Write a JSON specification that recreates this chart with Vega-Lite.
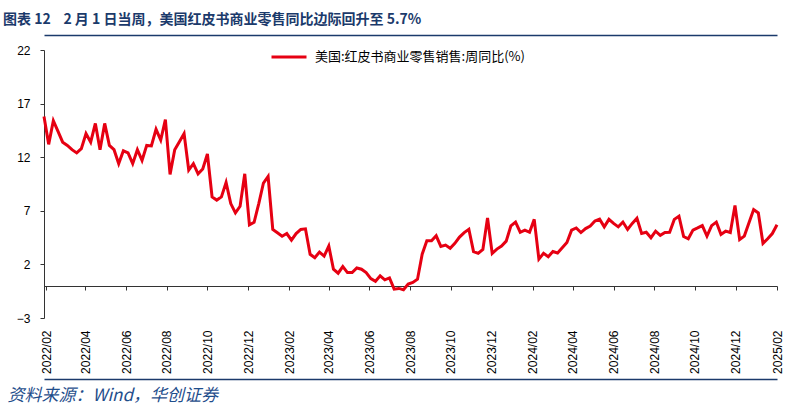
{
  "$schema": "https://vega.github.io/schema/vega-lite/v6.json",
  "width": 733,
  "height": 268,
  "autosize": {"type": "none"},
  "padding": {"left": 44, "top": 50, "right": 17, "bottom": 92},
  "background": "white",
  "title": {
    "text": "图表 12\u00a0\u00a0\u00a0 2 月 1 日当周，美国红皮书商业零售同比边际回升至 5.7%",
    "anchor": "start",
    "frame": "group",
    "dx": -41,
    "offset": 8,
    "font": "Noto Sans CJK SC",
    "fontSize": 14,
    "fontWeight": "bold",
    "color": "#1B3A6B"
  },
  "data": {
    "values": [
      {"date": "2022-01-29", "value": 15.8},
      {"date": "2022-02-05", "value": 13.2},
      {"date": "2022-02-12", "value": 15.4},
      {"date": "2022-02-19", "value": 14.4},
      {"date": "2022-02-26", "value": 13.4},
      {"date": "2022-03-05", "value": 13.1},
      {"date": "2022-03-12", "value": 12.7},
      {"date": "2022-03-19", "value": 12.4},
      {"date": "2022-03-26", "value": 12.8},
      {"date": "2022-04-02", "value": 14.2},
      {"date": "2022-04-09", "value": 13.4},
      {"date": "2022-04-16", "value": 15.15},
      {"date": "2022-04-23", "value": 12.7},
      {"date": "2022-04-30", "value": 15.15},
      {"date": "2022-05-07", "value": 13.1},
      {"date": "2022-05-14", "value": 12.7},
      {"date": "2022-05-21", "value": 11.4},
      {"date": "2022-05-28", "value": 12.6},
      {"date": "2022-06-04", "value": 12.4},
      {"date": "2022-06-11", "value": 11.4},
      {"date": "2022-06-18", "value": 12.7},
      {"date": "2022-06-25", "value": 11.7},
      {"date": "2022-07-02", "value": 13.1},
      {"date": "2022-07-09", "value": 13.05},
      {"date": "2022-07-16", "value": 14.6},
      {"date": "2022-07-23", "value": 13.6},
      {"date": "2022-07-30", "value": 15.5},
      {"date": "2022-08-06", "value": 10.4},
      {"date": "2022-08-13", "value": 12.7},
      {"date": "2022-08-20", "value": 13.45},
      {"date": "2022-08-27", "value": 14.2},
      {"date": "2022-09-03", "value": 10.8},
      {"date": "2022-09-10", "value": 11.4},
      {"date": "2022-09-17", "value": 10.45},
      {"date": "2022-09-24", "value": 10.9},
      {"date": "2022-10-01", "value": 12.3},
      {"date": "2022-10-08", "value": 8.3},
      {"date": "2022-10-15", "value": 8.0},
      {"date": "2022-10-22", "value": 8.3},
      {"date": "2022-10-29", "value": 9.64},
      {"date": "2022-11-05", "value": 7.67},
      {"date": "2022-11-12", "value": 6.8},
      {"date": "2022-11-19", "value": 7.42},
      {"date": "2022-11-26", "value": 10.45},
      {"date": "2022-12-03", "value": 5.69},
      {"date": "2022-12-10", "value": 5.93},
      {"date": "2022-12-17", "value": 7.67},
      {"date": "2022-12-24", "value": 9.59},
      {"date": "2022-12-31", "value": 10.2},
      {"date": "2023-01-07", "value": 5.26},
      {"date": "2023-01-14", "value": 4.95},
      {"date": "2023-01-21", "value": 4.63},
      {"date": "2023-01-28", "value": 4.88},
      {"date": "2023-02-04", "value": 4.26},
      {"date": "2023-02-11", "value": 4.88},
      {"date": "2023-02-18", "value": 5.26},
      {"date": "2023-02-25", "value": 5.32},
      {"date": "2023-03-04", "value": 2.94},
      {"date": "2023-03-11", "value": 2.63},
      {"date": "2023-03-18", "value": 3.15},
      {"date": "2023-03-25", "value": 2.78},
      {"date": "2023-04-01", "value": 3.71},
      {"date": "2023-04-08", "value": 1.55},
      {"date": "2023-04-15", "value": 1.18},
      {"date": "2023-04-22", "value": 1.8},
      {"date": "2023-04-29", "value": 1.24},
      {"date": "2023-05-06", "value": 1.24},
      {"date": "2023-05-13", "value": 1.67},
      {"date": "2023-05-20", "value": 1.55},
      {"date": "2023-05-27", "value": 1.24},
      {"date": "2023-06-03", "value": 0.68},
      {"date": "2023-06-10", "value": 0.43},
      {"date": "2023-06-17", "value": 0.93},
      {"date": "2023-06-24", "value": 0.56},
      {"date": "2023-07-01", "value": 0.74},
      {"date": "2023-07-08", "value": -0.31},
      {"date": "2023-07-15", "value": -0.24},
      {"date": "2023-07-22", "value": -0.37},
      {"date": "2023-07-29", "value": 0.16},
      {"date": "2023-08-05", "value": 0.31},
      {"date": "2023-08-12", "value": 0.62},
      {"date": "2023-08-19", "value": 2.95},
      {"date": "2023-08-26", "value": 4.2},
      {"date": "2023-09-02", "value": 4.2},
      {"date": "2023-09-09", "value": 4.67},
      {"date": "2023-09-16", "value": 3.68},
      {"date": "2023-09-23", "value": 3.8},
      {"date": "2023-09-30", "value": 3.5},
      {"date": "2023-10-07", "value": 3.96},
      {"date": "2023-10-14", "value": 4.55},
      {"date": "2023-10-21", "value": 4.97},
      {"date": "2023-10-28", "value": 5.28},
      {"date": "2023-11-04", "value": 3.2},
      {"date": "2023-11-11", "value": 3.03},
      {"date": "2023-11-18", "value": 3.4},
      {"date": "2023-11-25", "value": 6.34},
      {"date": "2023-12-02", "value": 3.03},
      {"date": "2023-12-09", "value": 3.43},
      {"date": "2023-12-16", "value": 3.71},
      {"date": "2023-12-23", "value": 4.17},
      {"date": "2023-12-30", "value": 5.6},
      {"date": "2024-01-06", "value": 5.95},
      {"date": "2024-01-13", "value": 5.0},
      {"date": "2024-01-20", "value": 5.2},
      {"date": "2024-01-27", "value": 5.0},
      {"date": "2024-02-03", "value": 6.2},
      {"date": "2024-02-10", "value": 2.49},
      {"date": "2024-02-17", "value": 3.03},
      {"date": "2024-02-24", "value": 2.72},
      {"date": "2024-03-02", "value": 3.2},
      {"date": "2024-03-09", "value": 3.06},
      {"date": "2024-03-16", "value": 3.55},
      {"date": "2024-03-23", "value": 4.05},
      {"date": "2024-03-30", "value": 5.2},
      {"date": "2024-04-06", "value": 5.4},
      {"date": "2024-04-13", "value": 4.97},
      {"date": "2024-04-20", "value": 5.34},
      {"date": "2024-04-27", "value": 5.57},
      {"date": "2024-05-04", "value": 6.05},
      {"date": "2024-05-11", "value": 6.22},
      {"date": "2024-05-18", "value": 5.5},
      {"date": "2024-05-25", "value": 6.2},
      {"date": "2024-06-01", "value": 5.82},
      {"date": "2024-06-08", "value": 5.5},
      {"date": "2024-06-15", "value": 5.95},
      {"date": "2024-06-22", "value": 5.26},
      {"date": "2024-06-29", "value": 5.82},
      {"date": "2024-07-06", "value": 6.31},
      {"date": "2024-07-13", "value": 4.88},
      {"date": "2024-07-20", "value": 5.0},
      {"date": "2024-07-27", "value": 4.49},
      {"date": "2024-08-03", "value": 5.1},
      {"date": "2024-08-10", "value": 4.71},
      {"date": "2024-08-17", "value": 4.97},
      {"date": "2024-08-24", "value": 5.0},
      {"date": "2024-08-31", "value": 6.2},
      {"date": "2024-09-07", "value": 6.49},
      {"date": "2024-09-14", "value": 4.6},
      {"date": "2024-09-21", "value": 4.39},
      {"date": "2024-09-28", "value": 5.2},
      {"date": "2024-10-05", "value": 5.4},
      {"date": "2024-10-12", "value": 5.62},
      {"date": "2024-10-19", "value": 4.64},
      {"date": "2024-10-26", "value": 5.62},
      {"date": "2024-11-02", "value": 5.95},
      {"date": "2024-11-09", "value": 4.8},
      {"date": "2024-11-16", "value": 5.1},
      {"date": "2024-11-23", "value": 4.97},
      {"date": "2024-11-30", "value": 7.5},
      {"date": "2024-12-07", "value": 4.32},
      {"date": "2024-12-14", "value": 4.64},
      {"date": "2024-12-21", "value": 5.88},
      {"date": "2024-12-28", "value": 7.11},
      {"date": "2025-01-04", "value": 6.8},
      {"date": "2025-01-11", "value": 3.96},
      {"date": "2025-01-18", "value": 4.39},
      {"date": "2025-01-25", "value": 4.88},
      {"date": "2025-02-01", "value": 5.7}
    ]
  },
  "layer": [
    {
      "mark": {"type": "line", "strokeWidth": 3},
      "encoding": {
        "x": {
          "field": "date",
          "type": "temporal",
          "scale": {"type": "utc", "domain": [{"year": 2022, "month": 1, "date": 29, "utc": true}, {"year": 2025, "month": 2, "date": 1, "utc": true}]},
          "axis": {
            "orient": "bottom",
            "title": null,
            "domain": false,
            "ticks": false,
            "tickSize": 0,
            "grid": false,
            "labelAngle": -90,
            "labelPadding": 12,
            "format": "%Y/%m",
            "labelFont": "Liberation Sans",
            "labelFontSize": 12,
            "labelColor": "#000000",
            "labelOverlap": false,
            "values": [
              {"year": 2022, "month": 2, "date": 1, "utc": true},
              {"year": 2022, "month": 4, "date": 1, "utc": true},
              {"year": 2022, "month": 6, "date": 1, "utc": true},
              {"year": 2022, "month": 8, "date": 1, "utc": true},
              {"year": 2022, "month": 10, "date": 1, "utc": true},
              {"year": 2022, "month": 12, "date": 1, "utc": true},
              {"year": 2023, "month": 2, "date": 1, "utc": true},
              {"year": 2023, "month": 4, "date": 1, "utc": true},
              {"year": 2023, "month": 6, "date": 1, "utc": true},
              {"year": 2023, "month": 8, "date": 1, "utc": true},
              {"year": 2023, "month": 10, "date": 1, "utc": true},
              {"year": 2023, "month": 12, "date": 1, "utc": true},
              {"year": 2024, "month": 2, "date": 1, "utc": true},
              {"year": 2024, "month": 4, "date": 1, "utc": true},
              {"year": 2024, "month": 6, "date": 1, "utc": true},
              {"year": 2024, "month": 8, "date": 1, "utc": true},
              {"year": 2024, "month": 10, "date": 1, "utc": true},
              {"year": 2024, "month": 12, "date": 1, "utc": true},
              {"year": 2025, "month": 2, "date": 1, "utc": true}
            ]
          }
        },
        "y": {
          "field": "value",
          "type": "quantitative",
          "scale": {"domain": [-3, 22], "nice": false, "zero": false},
          "axis": {
            "title": null,
            "grid": false,
            "values": [-3, 2, 7, 12, 17, 22],
            "domainColor": "#333333",
            "tickColor": "#333333",
            "tickSize": 4,
            "labelPadding": 10,
            "labelFont": "Liberation Sans",
            "labelFontSize": 12,
            "labelColor": "#000000"
          }
        },
        "color": {
          "datum": "美国:红皮书商业零售销售:周同比(%)",
          "scale": {"range": ["#E60012"]},
          "legend": {
            "orient": "none",
            "legendX": 226,
            "legendY": -12,
            "title": null,
            "symbolType": "stroke",
            "symbolStrokeWidth": 3,
            "symbolSize": 1225,
            "labelFont": "Noto Sans CJK SC",
            "labelFontSize": 13,
            "labelColor": "#000000",
            "labelOffset": 7,
            "labelLimit": 400
          }
        }
      }
    },
    {
      "mark": {"type": "point", "opacity": 0},
      "encoding": {
        "x": {
          "field": "date",
          "type": "temporal",
          "scale": {"type": "utc", "domain": [{"year": 2022, "month": 1, "date": 29, "utc": true}, {"year": 2025, "month": 2, "date": 1, "utc": true}]},
          "axis": {
            "orient": "bottom",
            "offset": -32,
            "title": null,
            "labels": false,
            "grid": false,
            "domain": true,
            "domainColor": "#333333",
            "ticks": true,
            "tickColor": "#333333",
            "tickSize": 4,
            "values": [
              {"year": 2022, "month": 2, "date": 1, "utc": true},
              {"year": 2022, "month": 4, "date": 1, "utc": true},
              {"year": 2022, "month": 6, "date": 1, "utc": true},
              {"year": 2022, "month": 8, "date": 1, "utc": true},
              {"year": 2022, "month": 10, "date": 1, "utc": true},
              {"year": 2022, "month": 12, "date": 1, "utc": true},
              {"year": 2023, "month": 2, "date": 1, "utc": true},
              {"year": 2023, "month": 4, "date": 1, "utc": true},
              {"year": 2023, "month": 6, "date": 1, "utc": true},
              {"year": 2023, "month": 8, "date": 1, "utc": true},
              {"year": 2023, "month": 10, "date": 1, "utc": true},
              {"year": 2023, "month": 12, "date": 1, "utc": true},
              {"year": 2024, "month": 2, "date": 1, "utc": true},
              {"year": 2024, "month": 4, "date": 1, "utc": true},
              {"year": 2024, "month": 6, "date": 1, "utc": true},
              {"year": 2024, "month": 8, "date": 1, "utc": true},
              {"year": 2024, "month": 10, "date": 1, "utc": true},
              {"year": 2024, "month": 12, "date": 1, "utc": true},
              {"year": 2025, "month": 2, "date": 1, "utc": true}
            ]
          }
        }
      }
    },
    {
      "mark": {"type": "point", "opacity": 0},
      "encoding": {
        "x": {
          "field": "date",
          "type": "temporal",
          "scale": {"type": "utc"},
          "axis": {
            "orient": "top",
            "offset": 15,
            "title": null,
            "labels": false,
            "ticks": false,
            "grid": false,
            "domain": true,
            "domainColor": "#1B3A6B",
            "domainWidth": 1.5
          }
        }
      }
    },
    {
      "mark": {"type": "point", "opacity": 0},
      "encoding": {
        "x": {
          "field": "date",
          "type": "temporal",
          "scale": {"type": "utc"},
          "axis": {
            "orient": "bottom",
            "offset": 61,
            "labels": false,
            "ticks": false,
            "grid": false,
            "domain": true,
            "domainColor": "#1B3A6B",
            "domainWidth": 1.5,
            "title": "资料来源：Wind，华创证券",
            "titleFont": "Noto Sans CJK SC",
            "titleFontStyle": "italic",
            "titleFontWeight": "normal",
            "titleFontSize": 17,
            "titleColor": "#1F4E8C",
            "titleAnchor": "start",
            "titleAlign": "left",
            "titleBaseline": "middle",
            "titleX": -37,
            "titleY": 16
          }
        }
      }
    }
  ],
  "resolve": {"scale": {"x": "independent"}, "axis": {"x": "independent"}},
  "config": {"view": {"stroke": null}, "font": "Liberation Sans"}
}
